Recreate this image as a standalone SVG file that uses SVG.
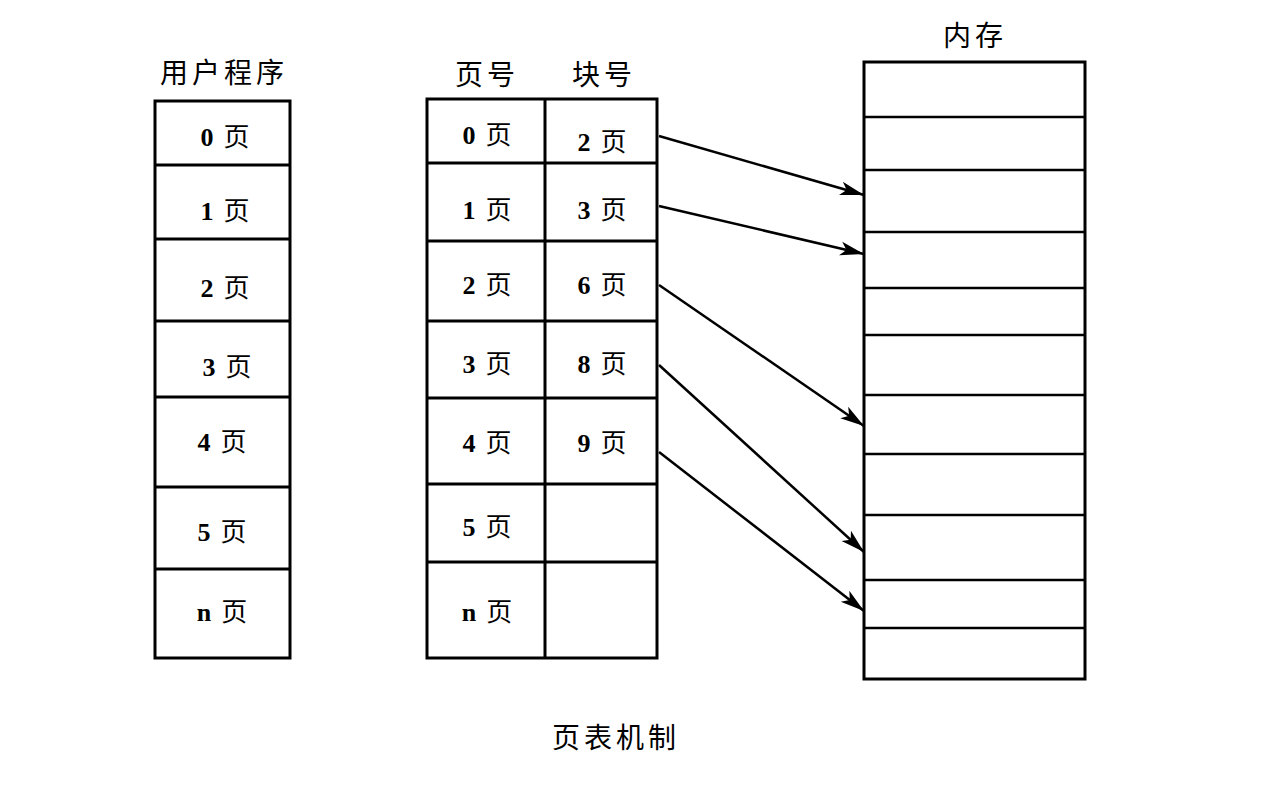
<svg xmlns="http://www.w3.org/2000/svg" width="1278" height="796" viewBox="0 0 1278 796">
<style>
.box{fill:none;stroke:#000;stroke-width:3}
.div{stroke:#000;stroke-width:3}
.mem{stroke:#000;stroke-width:2.5}
.hd{font-family:"Noto Sans CJK SC","Liberation Serif",sans-serif;font-size:28px;fill:#000;text-anchor:middle;letter-spacing:4px}
.cell{font-family:"Liberation Serif","Noto Sans CJK SC",serif;font-size:26px;fill:#000;text-anchor:middle}
.d{font-weight:bold}
.arr{stroke:#000;stroke-width:2.5;fill:none;marker-end:url(#ah)}
</style>
<defs>
<marker id="ah" markerUnits="userSpaceOnUse" markerWidth="26" markerHeight="16" refX="24" refY="8" orient="auto">
<path d="M0,1 L24,8 L0,15 L6,8 Z" fill="#000"/>
</marker>
</defs>
<rect width="1278" height="796" fill="#fff"/>

<g id="user-program">
<text class="hd" x="224" y="83">用户程序</text>
<rect class="box" x="155" y="101" width="135" height="557"/>
<line class="div" x1="155" y1="165" x2="290" y2="165"/>
<line class="div" x1="155" y1="239" x2="290" y2="239"/>
<line class="div" x1="155" y1="321" x2="290" y2="321"/>
<line class="div" x1="155" y1="397" x2="290" y2="397"/>
<line class="div" x1="155" y1="487" x2="290" y2="487"/>
<line class="div" x1="155" y1="569" x2="290" y2="569"/>
<text class="cell" x="225" y="146"><tspan class="d">0</tspan><tspan dx="10">页</tspan></text>
<text class="cell" x="225" y="220"><tspan class="d">1</tspan><tspan dx="10">页</tspan></text>
<text class="cell" x="225" y="297"><tspan class="d">2</tspan><tspan dx="10">页</tspan></text>
<text class="cell" x="227" y="376"><tspan class="d">3</tspan><tspan dx="10">页</tspan></text>
<text class="cell" x="222" y="451"><tspan class="d">4</tspan><tspan dx="10">页</tspan></text>
<text class="cell" x="222" y="541"><tspan class="d">5</tspan><tspan dx="10">页</tspan></text>
<text class="cell" x="222" y="621"><tspan class="d">n</tspan><tspan dx="10">页</tspan></text>
</g>

<g id="page-table">
<text class="hd" x="487" y="85">页号</text>
<text class="hd" x="604" y="85">块号</text>
<rect class="box" x="427" y="99" width="230" height="559"/>
<line class="div" x1="545" y1="99" x2="545" y2="658"/>
<line class="div" x1="427" y1="163" x2="657" y2="163"/>
<line class="div" x1="427" y1="241" x2="657" y2="241"/>
<line class="div" x1="427" y1="321" x2="657" y2="321"/>
<line class="div" x1="427" y1="398" x2="657" y2="398"/>
<line class="div" x1="427" y1="484" x2="657" y2="484"/>
<line class="div" x1="427" y1="562" x2="657" y2="562"/>
<text class="cell" x="487" y="144"><tspan class="d">0</tspan><tspan dx="10">页</tspan></text>
<text class="cell" x="487" y="219"><tspan class="d">1</tspan><tspan dx="10">页</tspan></text>
<text class="cell" x="487" y="294"><tspan class="d">2</tspan><tspan dx="10">页</tspan></text>
<text class="cell" x="487" y="373"><tspan class="d">3</tspan><tspan dx="10">页</tspan></text>
<text class="cell" x="487" y="452"><tspan class="d">4</tspan><tspan dx="10">页</tspan></text>
<text class="cell" x="487" y="536"><tspan class="d">5</tspan><tspan dx="10">页</tspan></text>
<text class="cell" x="487" y="621"><tspan class="d">n</tspan><tspan dx="10">页</tspan></text>
<text class="cell" x="602" y="151"><tspan class="d">2</tspan><tspan dx="10">页</tspan></text>
<text class="cell" x="602" y="219"><tspan class="d">3</tspan><tspan dx="10">页</tspan></text>
<text class="cell" x="602" y="294"><tspan class="d">6</tspan><tspan dx="10">页</tspan></text>
<text class="cell" x="602" y="373"><tspan class="d">8</tspan><tspan dx="10">页</tspan></text>
<text class="cell" x="602" y="452"><tspan class="d">9</tspan><tspan dx="10">页</tspan></text>
</g>

<g id="memory">
<text class="hd" x="975" y="46">内存</text>
<rect class="box" x="864" y="62" width="221" height="617"/>
<line class="mem" x1="864" y1="117" x2="1085" y2="117"/>
<line class="mem" x1="864" y1="170" x2="1085" y2="170"/>
<line class="mem" x1="864" y1="232" x2="1085" y2="232"/>
<line class="mem" x1="864" y1="288" x2="1085" y2="288"/>
<line class="mem" x1="864" y1="335" x2="1085" y2="335"/>
<line class="mem" x1="864" y1="395" x2="1085" y2="395"/>
<line class="mem" x1="864" y1="454" x2="1085" y2="454"/>
<line class="mem" x1="864" y1="515" x2="1085" y2="515"/>
<line class="mem" x1="864" y1="580" x2="1085" y2="580"/>
<line class="mem" x1="864" y1="628" x2="1085" y2="628"/>
</g>

<g id="connectors">
<line class="arr" x1="659" y1="136" x2="864" y2="195"/>
<line class="arr" x1="659" y1="206" x2="864" y2="254"/>
<line class="arr" x1="659" y1="285" x2="864" y2="426"/>
<line class="arr" x1="659" y1="365" x2="864" y2="552"/>
<line class="arr" x1="659" y1="452" x2="864" y2="611"/>
</g>

<g id="caption">
<text class="hd" x="616" y="748">页表机制</text>
</g>
</svg>
